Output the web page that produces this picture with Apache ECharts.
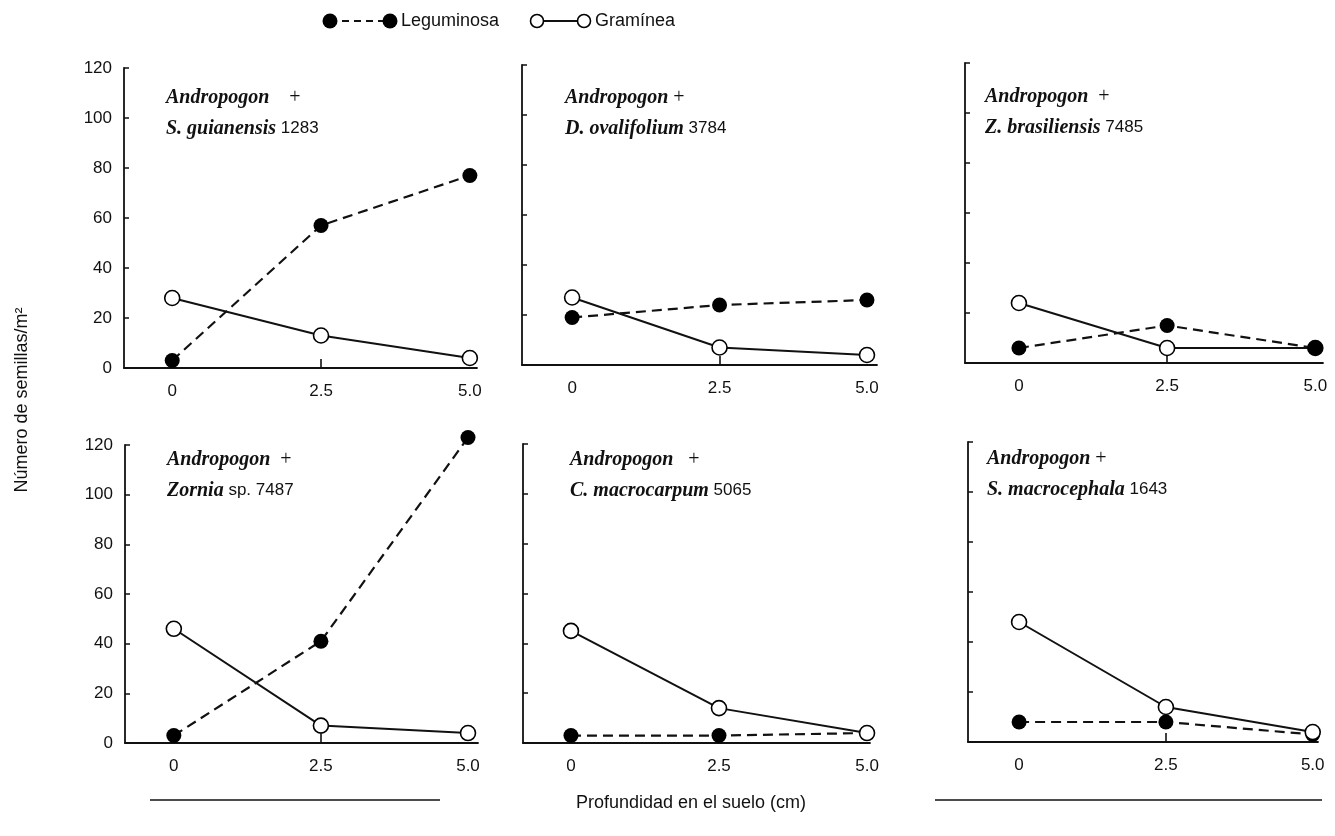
<!DOCTYPE html>
<html>
<head>
<meta charset="utf-8">
<script src="https://cdn.jsdelivr.net/npm/echarts@6/dist/echarts.min.js"></script>
<style>
html,body{margin:0;padding:0;background:#fff;}
#chart{width:1335px;height:836px;}
</style>
</head>
<body>
<div id="chart"></div>
<script>
// ---- data ----
const depths = [0, 2.5, 5.0];
const xTickLabels = ['0', '2.5', '5.0'];
const yTicks = [0, 20, 40, 60, 80, 100, 120];
const seriesNames = ['Leguminosa', 'Gramínea'];

const speciesNames = ['S. guianensis', 'D. ovalifolium', 'Z. brasiliensis', 'Zornia', 'C. macrocarpum', 'S. macrocephala'];
const speciesCodes = ['1283', '3784', '7485', 'sp. 7487', '5065', '1643'];

const leguminosa1 = [3, 57, 77];
const graminea1   = [28, 13, 4];
const leguminosa2 = [19, 24, 26];
const graminea2   = [27, 7, 4];
const leguminosa3 = [6, 15, 6];
const graminea3   = [24, 6, 6];
const leguminosa4 = [3, 41, 123];
const graminea4   = [46, 7, 4];
const leguminosa5 = [3, 3, 4];
const graminea5   = [45, 14, 4];
const leguminosa6 = [8, 8, 3];
const graminea6   = [48, 14, 4];

const legAll = [leguminosa1, leguminosa2, leguminosa3, leguminosa4, leguminosa5, leguminosa6];
const graAll = [graminea1, graminea2, graminea3, graminea4, graminea5, graminea6];

// ---- layout ----
const grids = [
  {left: 124, top: 68,  width: 353, height: 300, xmin: -0.81, xmax: 5.12, labels: true,  tick25: true,  legTop: true},
  {left: 522, top: 65,  width: 355, height: 300, xmin: -0.85, xmax: 5.17, labels: false, tick25: true,  legTop: true},
  {left: 965, top: 63,  width: 358, height: 300, xmin: -0.91, xmax: 5.13, labels: false, tick25: true,  legTop: true},
  {left: 125, top: 445, width: 353, height: 298, xmin: -0.83, xmax: 5.17, labels: true,  tick25: true,  legTop: true},
  {left: 523, top: 444, width: 347, height: 299, xmin: -0.81, xmax: 5.05, labels: false, tick25: false, legTop: false},
  {left: 968, top: 442, width: 350, height: 300, xmin: -0.87, xmax: 5.09, labels: false, tick25: true,  legTop: false}
];
const titlePos = [
  {left: 166, top: 82}, {left: 565, top: 82}, {left: 985, top: 81},
  {left: 167, top: 444}, {left: 570, top: 444}, {left: 987, top: 443}
];
const plusGap = ['    ', ' ', '  ', '  ', '   ', ' '];

const SANS = "'Liberation Sans', Arial, sans-serif";
const SERIF = "'Liberation Serif', 'Times New Roman', serif";
const INK = '#111';

const option = {
  animation: false,
  backgroundColor: '#fff',
  grid: grids.map(g => ({left: g.left, top: g.top, width: g.width, height: g.height, containLabel: false})),
  xAxis: grids.map((g, i) => ({
    type: 'value', gridIndex: i, min: g.xmin, max: g.xmax,
    splitLine: {show: false},
    axisLine: {show: true, lineStyle: {color: INK, width: 1.8}},
    axisTick: {show: g.tick25, inside: true, length: 9, customValues: [2.5], lineStyle: {color: INK, width: 1.6}},
    axisLabel: {
      show: true, customValues: depths, margin: 15, color: INK, fontFamily: SANS, fontSize: 17,
      formatter: v => xTickLabels[depths.indexOf(v)] !== undefined ? xTickLabels[depths.indexOf(v)] : ''
    }
  })),
  yAxis: grids.map((g, i) => ({
    type: 'value', gridIndex: i, min: yTicks[0], max: yTicks[yTicks.length - 1], interval: 20,
    splitLine: {show: false},
    axisLine: {show: true, onZero: false, lineStyle: {color: INK, width: 1.8}},
    axisTick: {show: true, inside: true, length: 5, lineStyle: {color: INK, width: 1.5}},
    axisLabel: {show: g.labels, margin: 12, color: INK, fontFamily: SANS, fontSize: 17}
  })),
  title: titlePos.map((p, i) => ({
    left: p.left, top: p.top, padding: 0,
    text: '{a|Andropogon}{p|' + plusGap[i] + '+}\n{a|' + speciesNames[i] + '}{n| ' + speciesCodes[i] + '}',
    textStyle: {
      fontWeight: 'normal',
      rich: {
        a: {fontFamily: SERIF, fontStyle: 'italic', fontWeight: 'bold', fontSize: 20, color: INK, lineHeight: 31},
        p: {fontFamily: SERIF, fontWeight: 'normal', fontSize: 20, color: INK, lineHeight: 31},
        n: {fontFamily: SANS, fontWeight: 'normal', fontSize: 17, color: INK, lineHeight: 31}
      }
    }
  })),
  series: [],
  graphic: []
};

grids.forEach((g, i) => {
  const legSeries = {
    name: seriesNames[0], type: 'line', xAxisIndex: i, yAxisIndex: i,
    data: depths.map((d, k) => [d, legAll[i][k]]),
    symbol: 'circle', symbolSize: 15, showSymbol: true, clip: false,
    itemStyle: {color: '#000', borderColor: '#000', borderWidth: 0},
    lineStyle: {color: INK, width: 2.2, type: [10, 6]},
    z: g.legTop ? 4 : 2
  };
  const graSeries = {
    name: seriesNames[1], type: 'line', xAxisIndex: i, yAxisIndex: i,
    data: depths.map((d, k) => [d, graAll[i][k]]),
    symbol: 'circle', symbolSize: 15, showSymbol: true, clip: false,
    itemStyle: {color: '#fff', borderColor: '#000', borderWidth: 1.6},
    lineStyle: {color: INK, width: 2, type: 'solid'},
    z: 3
  };
  option.series.push(graSeries, legSeries);
});

// legend drawn as graphics
option.graphic = [
  {type: 'line', shape: {x1: 330, y1: 21, x2: 390, y2: 21}, style: {stroke: INK, lineWidth: 2.2, lineDash: [7, 5]}},
  {type: 'circle', shape: {cx: 330, cy: 21, r: 7.5}, style: {fill: '#000'}},
  {type: 'circle', shape: {cx: 390, cy: 21, r: 7.5}, style: {fill: '#000'}},
  {type: 'text', x: 401, y: 21, style: {text: seriesNames[0], font: "18px " + SANS, fill: INK, verticalAlign: 'middle'}},
  {type: 'line', shape: {x1: 537, y1: 21, x2: 584, y2: 21}, style: {stroke: INK, lineWidth: 2}},
  {type: 'circle', shape: {cx: 537, cy: 21, r: 6.5}, style: {fill: '#fff', stroke: '#000', lineWidth: 1.6}},
  {type: 'circle', shape: {cx: 584, cy: 21, r: 6.5}, style: {fill: '#fff', stroke: '#000', lineWidth: 1.6}},
  {type: 'text', x: 595, y: 21, style: {text: seriesNames[1], font: "18px " + SANS, fill: INK, verticalAlign: 'middle'}},
  // y-axis title
  {type: 'text', x: 22, y: 400, rotation: Math.PI / 2,
   style: {text: 'Número de semillas/m²', font: "18px " + SANS, fill: INK, align: 'center', verticalAlign: 'middle'}},
  // x-axis title with side rules
  {type: 'text', x: 691, y: 803,
   style: {text: 'Profundidad en el suelo (cm)', font: "18px " + SANS, fill: INK, align: 'center', verticalAlign: 'middle'}},
  {type: 'line', shape: {x1: 150, y1: 800, x2: 440, y2: 800}, style: {stroke: INK, lineWidth: 1.6}},
  {type: 'line', shape: {x1: 935, y1: 800, x2: 1322, y2: 800}, style: {stroke: INK, lineWidth: 1.6}}
];

const chart = echarts.init(document.getElementById('chart'), null, {renderer: 'canvas'});
chart.setOption(option);
</script>
</body>
</html>
